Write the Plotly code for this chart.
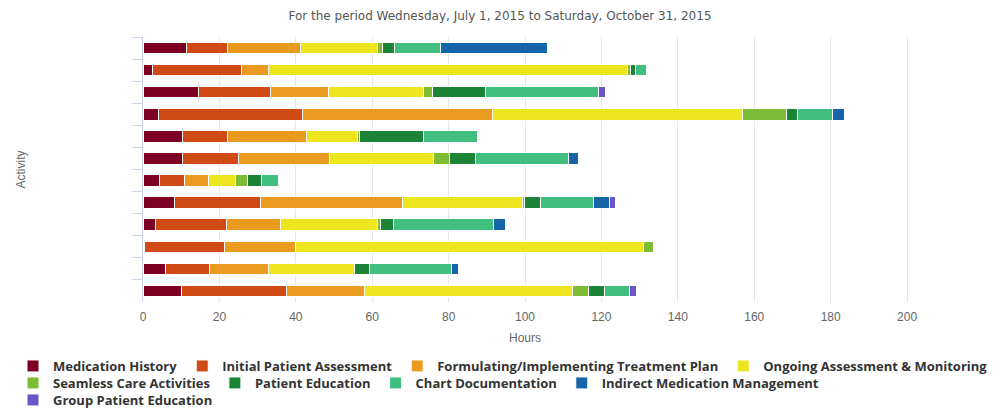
import plotly.graph_objects as go

# Rows of the chart (labels are not displayed on the axis)
rows = ["1", "2", "3", "4", "5", "6", "7", "8", "9", "10", "11", "12"]

# Hours per activity type, one value per row
medication_history = [11.3, 2.6, 14.5, 4.0, 10.3, 10.3, 4.2, 8.2, 3.4, 0.3, 5.8, 10.0]
initial_assessment = [10.8, 23.3, 18.8, 37.7, 11.8, 14.7, 6.7, 22.5, 18.5, 21.0, 11.6, 27.6]
treatment_plan = [19.0, 6.9, 15.3, 49.7, 20.6, 23.8, 6.2, 37.2, 14.0, 18.5, 15.4, 20.3]
ongoing_monitoring = [20.2, 94.0, 24.9, 65.5, 13.5, 27.2, 7.2, 31.4, 25.6, 91.1, 22.5, 54.5]
seamless_care = [1.4, 0.7, 2.3, 11.5, 0.4, 4.1, 3.1, 0.6, 0.6, 2.6, 0.0, 4.3]
patient_education = [3.2, 1.5, 13.9, 2.9, 16.8, 7.0, 3.5, 4.2, 3.5, 0.0, 4.1, 4.1]
chart_documentation = [12.0, 2.9, 29.5, 9.3, 14.1, 24.2, 4.5, 13.7, 26.2, 0.0, 21.3, 6.6]
indirect_management = [27.9, 0.0, 0.0, 2.9, 0.0, 2.6, 0.0, 4.2, 3.0, 0.0, 1.8, 0.0]
group_education = [0.0, 0.0, 1.8, 0.0, 0.0, 0.0, 0.0, 1.7, 0.0, 0.0, 0.0, 1.9]

series_names = [
    "Medication History",
    "Initial Patient Assessment",
    "Formulating/Implementing Treatment Plan",
    "Ongoing Assessment & Monitoring",
    "Seamless Care Activities",
    "Patient Education",
    "Chart Documentation",
    "Indirect Medication Management",
    "Group Patient Education",
]
series_values = [
    medication_history,
    initial_assessment,
    treatment_plan,
    ongoing_monitoring,
    seamless_care,
    patient_education,
    chart_documentation,
    indirect_management,
    group_education,
]
series_colors = [
    "#7d0024", "#cf4a14", "#ea9a1f", "#ece51f", "#7dbd35",
    "#1b8436", "#40bf7f", "#1565a8", "#6a56c8",
]
# legend row that each series is listed in
legend_rows = ["legend", "legend", "legend", "legend",
               "legend2", "legend2", "legend2", "legend2",
               "legend3"]

hour_ticks = [0, 20, 40, 60, 80, 100, 120, 140, 160, 180, 200]

fig = go.Figure()
for name, vals, color, leg in zip(series_names, series_values, series_colors, legend_rows):
    fig.add_trace(go.Bar(
        y=rows, x=vals, name=name, orientation="h", legend=leg,
        marker=dict(color=color, line=dict(color="white", width=1)),
    ))

grey = "#666666"
plot_left, plot_bottom, plot_h, plot_w = 143, 302, 265, 855


def legend_row(center_y):
    return dict(
        orientation="h", traceorder="normal",
        x=(13 - plot_left) / plot_w, xanchor="left",
        y=(plot_bottom - center_y) / plot_h, yanchor="middle",
        font=dict(family="Open Sans", size=13, color="#333333", weight="bold"),
        itemclick=False, itemdoubleclick=False,
        bgcolor="rgba(0,0,0,0)",
    )


fig.update_layout(
    width=1000, height=408,
    barmode="stack", bargap=0.48,
    paper_bgcolor="white", plot_bgcolor="white",
    margin=dict(l=plot_left, r=2, t=37, b=106, autoexpand=False),
    title=dict(
        text="For the period Wednesday, July 1, 2015 to Saturday, October 31, 2015",
        x=0.5, xref="container", xanchor="center",
        y=1 - 16 / 408, yref="container", yanchor="middle",
        font=dict(family="DejaVu Sans", size=12, color="#555555"),
    ),
    xaxis=dict(
        range=[0, 223.8], tickvals=hour_ticks,
        showgrid=True, gridcolor="#e6e6e6", gridwidth=1,
        zeroline=False, showline=False,
        ticks="outside", ticklen=4, tickcolor="rgba(0,0,0,0)",
        tickfont=dict(family="Liberation Sans", size=12, color=grey),
        fixedrange=True,
    ),
    yaxis=dict(
        type="category", autorange="reversed",
        showticklabels=False, showgrid=False, zeroline=False,
        showline=True, linecolor="#ccd6eb", linewidth=1,
        ticks="outside", ticklen=10, tickcolor="#ccd6eb", tickson="boundaries",
    ),
    legend=legend_row(366),
    legend2=legend_row(383),
    legend3=legend_row(400),
    annotations=[
        dict(text="Hours", x=100, xref="x", y=(plot_bottom - 338) / plot_h, yref="paper",
             showarrow=False, xanchor="center", yanchor="middle",
             font=dict(family="Liberation Sans", size=12, color=grey)),
        dict(text="Activity", x=(20 - plot_left) / plot_w, xref="paper", y=0.5, yref="paper",
             showarrow=False, textangle=-90, xanchor="center", yanchor="middle",
             font=dict(family="Liberation Sans", size=12, color=grey)),
    ],
)

fig.write_html("out.html")
